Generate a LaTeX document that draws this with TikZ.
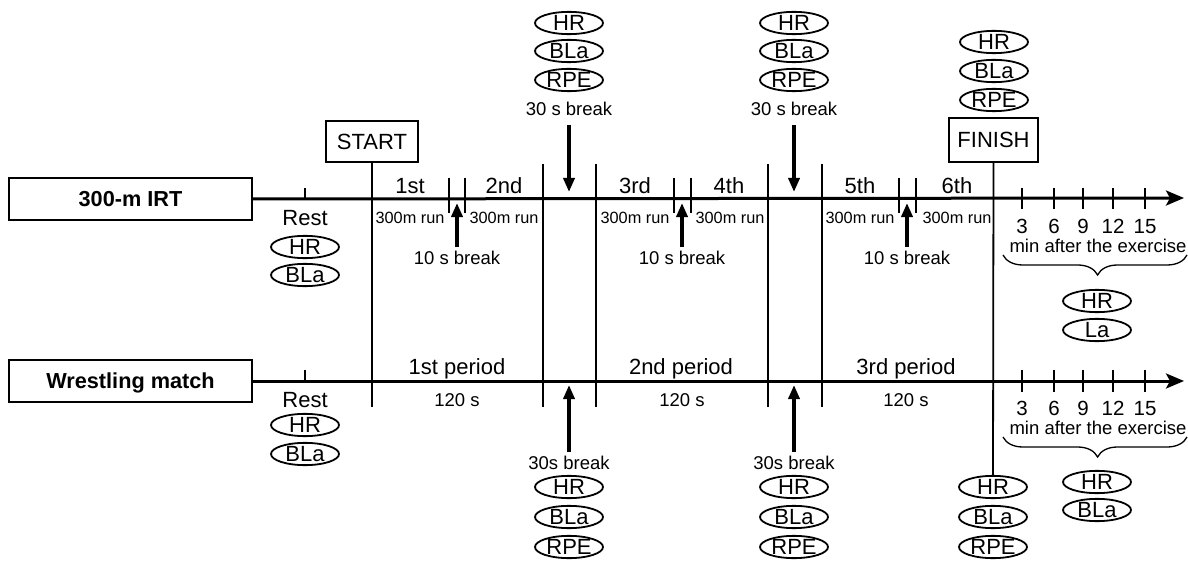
\documentclass[tikz,border=0pt]{standalone}
\usepackage{fontspec}
\setmainfont{Liberation Sans}
\usetikzlibrary{shapes.geometric, arrows.meta, decorations.pathreplacing}
\begin{document}
\begin{tikzpicture}[x=1pt, y=-1pt,
  lab/.style={inner sep=0pt, text depth=0pt},
  big/.style={lab, font=\fontsize{22}{24}\selectfont, text height=15.75pt},
  med/.style={lab, font=\fontsize{18.5}{20}\selectfont, text height=13.3pt},
  sml/.style={lab, font=\fontsize{16.3}{18}\selectfont, text height=11.7pt},
  num/.style={lab, font=\fontsize{20.5}{22}\selectfont, text height=14.7pt},
  rowbox/.style={draw, line width=2.4pt, minimum width=243pt, minimum height=42pt, inner sep=0pt, font=\bfseries\fontsize{21.7}{24}\selectfont, text height=15.6pt, text depth=0pt},
  markbox/.style={draw, line width=1.4pt, inner sep=0pt, font=\fontsize{22}{24}\selectfont, text height=15.75pt, text depth=0pt},
  meas/.style={ellipse, draw, line width=1.8pt, minimum width=68pt, minimum height=22pt, inner sep=0pt, font=\fontsize{22}{24}\selectfont, text height=15.75pt, text depth=0pt},
  axisline/.style={line width=3pt, -{Stealth[length=18pt, width=15pt, inset=4pt]}},
  vline/.style={line width=1.8pt},
  tick/.style={line width=1.8pt},
  breakarrow/.style={line width=4.5pt, -{Triangle[length=14pt, width=11pt]}},
  bracestyle/.style={line width=1.3pt, decorate, decoration={brace, mirror, amplitude=20pt, aspect=0.514}}
]
\useasboundingbox (0,0) rectangle (1188,564);

% ===== Top row: 300-m IRT =====
\node[rowbox] (irt) at (130.5,199) {300-m IRT};
\coordinate (tend) at (1184,198);
\draw[axisline] (irt.east) -- (tend);

% rest
\coordinate (rt1) at (305,188); \coordinate (rt2) at (305,198);
\draw[tick] (rt1) -- (rt2);
\node[big] (rest1) at (305,218) {Rest};
\node[meas] (rhr1) at (305,247) {HR};
\node[meas] (rbla1) at (305,275) {BLa};

% START / FINISH
\node[markbox, minimum width=92pt, minimum height=41pt] (start) at (372,141.5) {START};
\coordinate (startbot) at (372,407);
\draw[vline] (start.south) -- (startbot);
\node[markbox, minimum width=89pt, minimum height=44pt] (finish) at (993.5,140) {FINISH};

% long vertical lines
\foreach \n/\x in {va/543, vb/596, vc/768, vd/822}{
  \coordinate (\n t) at (\x,164);
  \coordinate (\n b) at (\x,407);
  \draw[vline] (\n t) -- (\n b);
}

% short ticks between runs
\foreach \n/\x in {ta/449, tb/465, tc/674, td/691, te/899, tf/916}{
  \coordinate (\n t) at (\x,178);
  \coordinate (\n b) at (\x,213);
  \draw[tick] (\n t) -- (\n b);
}

% run numbers
\node[big] (r1) at (410,186) {1st};
\node[big] (r2) at (504,186) {2nd};
\node[big] (r3) at (635,186) {3rd};
\node[big] (r4) at (729,186) {4th};
\node[big] (r5) at (860,186) {5th};
\node[big] (r6) at (957,186) {6th};

% 300m run labels
\foreach \n/\x in {ra/410, rb/504, rc/635, rd/730, re/860, rf/957}{
  \node[sml] (\n) at (\x,218) {300m run};
}

% 10 s breaks
\foreach \n/\x in {ka/457, kb/682, kc/907}{
  \coordinate (\n s) at (\x,247);
  \coordinate (\n e) at (\x,203);
  \draw[breakarrow] (\n s) -- (\n e);
  \node[med] (\n l) at (\x,258) {10 s break};
}

% 30 s breaks (top)
\foreach \n/\x in {ba/569, bb/794}{
  \node[meas] (\n hr) at (\x,23) {HR};
  \node[meas] (\n bla) at (\x,51) {BLa};
  \node[meas] (\n rpe) at (\x,80) {RPE};
  \node[med] (\n l) at (\x,109) {30 s break};
  \coordinate (\n s) at (\x,125);
  \coordinate (\n e) at (\x,192);
  \draw[breakarrow] (\n s) -- (\n e);
}

% finish measures (top)
\node[meas] (fhr1) at (994,42) {HR};
\node[meas] (fbla1) at (994,71) {BLa};
\node[meas] (frpe1) at (994,100) {RPE};

% post-exercise ticks (top)
\foreach \n/\x/\m in {pa/1022/3, pb/1054/6, pc/1083/9, pd/1113/12, pe/1145/15}{
  \coordinate (\n t) at (\x,188);
  \coordinate (\n b) at (\x,209);
  \draw[tick] (\n t) -- (\n b);
  \node[num] (\n n) at (\x,226) {\m};
}
\node[med] (min1) at (1098,246) {min after the exercise};
\coordinate (br1a) at (1003,255); \coordinate (br1b) at (1187,255);
\draw[bracestyle] (br1a) -- (br1b);
\node[meas] (phr1) at (1097,301) {HR};
\node[meas] (pla1) at (1097,330) {La};

% ===== Bottom row: Wrestling match =====
\node[rowbox] (wm) at (130.5,381) {Wrestling match};
\coordinate (wend) at (1184,381);
\draw[axisline] (wm.east) -- (wend);

\coordinate (rt3) at (305,370); \coordinate (rt4) at (305,381);
\draw[tick] (rt3) -- (rt4);
\node[big] (rest2) at (305,400) {Rest};
\node[meas] (rhr2) at (305,425) {HR};
\node[meas] (rbla2) at (305,454) {BLa};

\node[big] (p1) at (457,367) {1st period};
\node[big] (p2) at (681,367) {2nd period};
\node[big] (p3) at (906,367) {3rd period};
\node[med] (s1) at (457,400) {120 s};
\node[med] (s2) at (682,400) {120 s};
\node[med] (s3) at (906,400) {120 s};

\foreach \n/\x in {ca/569, cb/794}{
  \coordinate (\n s) at (\x,452);
  \coordinate (\n e) at (\x,385);
  \draw[breakarrow] (\n s) -- (\n e);
  \node[med] (\n l) at (\x,463) {30s break};
  \node[meas] (\n hr) at (\x,487) {HR};
  \node[meas] (\n bla) at (\x,517) {BLa};
  \node[meas] (\n rpe) at (\x,547) {RPE};
}

% finish measures (bottom)
\node[meas] (fhr2) at (993,487) {HR};
\node[meas] (fbla2) at (993,517) {BLa};
\node[meas] (frpe2) at (993,547) {RPE};
\draw[vline] (finish.south) -- (fhr2.north);

% post-exercise ticks (bottom)
\foreach \n/\x/\m in {qa/1022/3, qb/1054/6, qc/1083/9, qd/1113/12, qe/1145/15}{
  \coordinate (\n t) at (\x,370);
  \coordinate (\n b) at (\x,392);
  \draw[tick] (\n t) -- (\n b);
  \node[num] (\n n) at (\x,408) {\m};
}
\node[med] (min2) at (1098,428) {min after the exercise};
\coordinate (br2a) at (1003,437); \coordinate (br2b) at (1187,437);
\draw[bracestyle] (br2a) -- (br2b);
\node[meas] (phr2) at (1097,482) {HR};
\node[meas] (pbla2) at (1097,510) {BLa};
\end{tikzpicture}
\end{document}
